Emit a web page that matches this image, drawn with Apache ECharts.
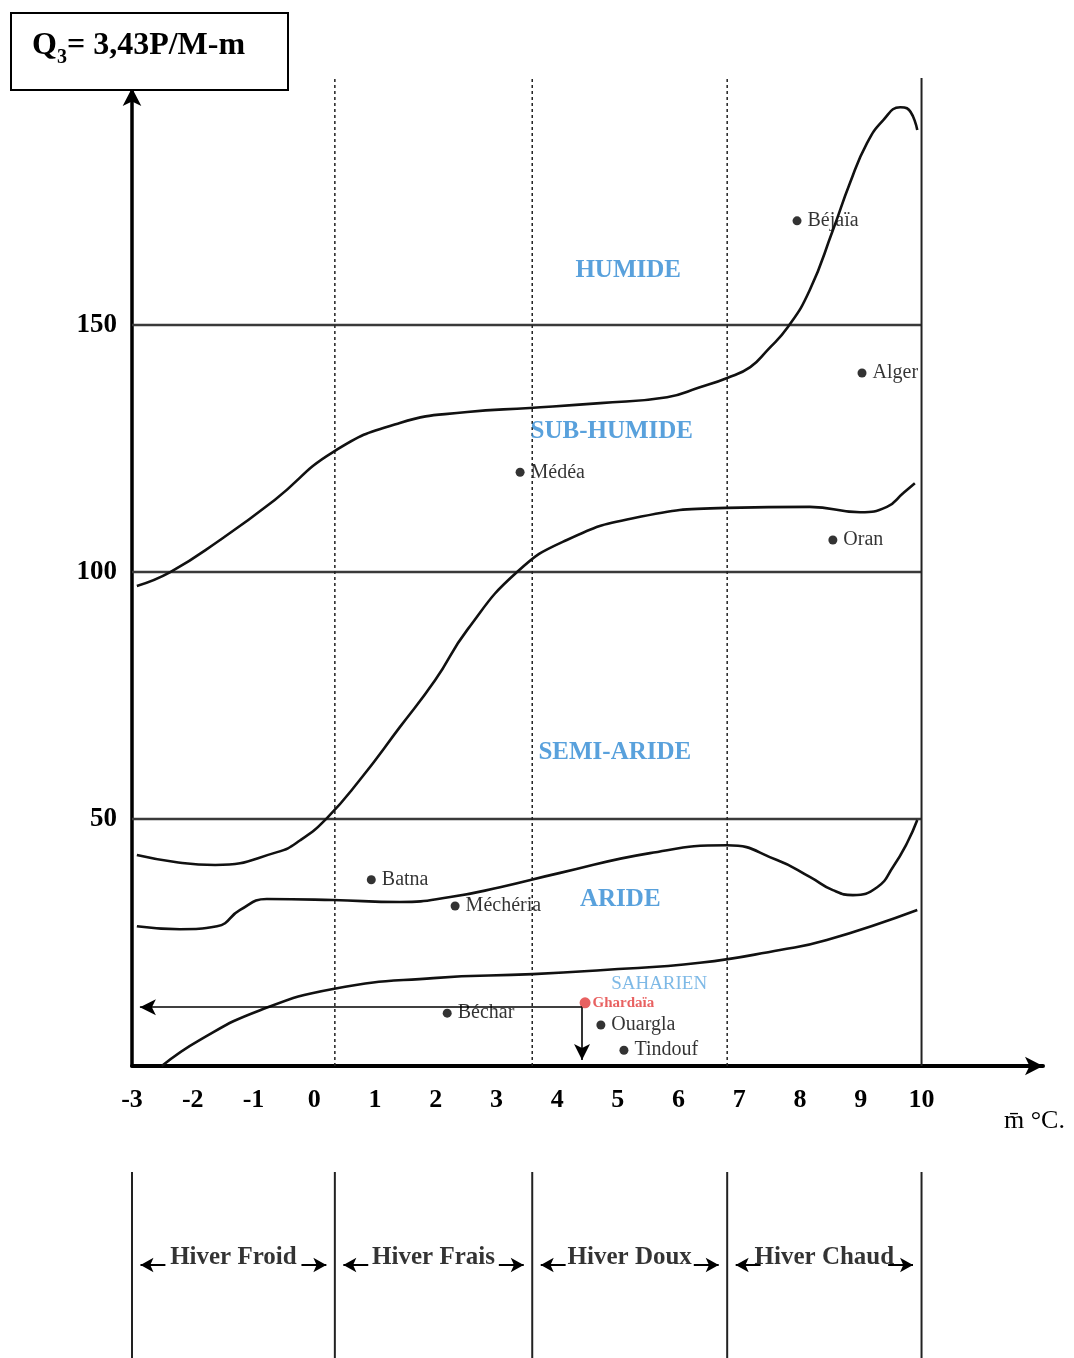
<!DOCTYPE html>
<html>
<head>
<meta charset="utf-8">
<script src="https://cdn.jsdelivr.net/npm/echarts@6/dist/echarts.min.js"></script>
<style>
  html, body { margin: 0; padding: 0; background: #fff; }
  #chart { width: 1074px; height: 1358px; }
</style>
</head>
<body>
<div id="chart"></div>
<script>
// axes
var xTicks = [-3, -2, -1, 0, 1, 2, 3, 4, 5, 6, 7, 8, 9, 10];
var yTicks = [50, 100, 150];

// limites des étages (m °C, Q3)
var limHumide = [[-2.92, 97.2], [-2.37, 100], [-1.55, 106.5], [-0.65, 114.6], [0.31, 124.3], [1.41, 130.2], [2.52, 132.4], [3.55, 133.2], [4.71, 134.2], [5.81, 135.4], [6.35, 137.4], [6.80, 139.3], [7.18, 141.5], [7.46, 144.9], [7.80, 149.6], [8.16, 157.1], [8.54, 169.2], [8.82, 178.7], [9.10, 186.8], [9.37, 191.5], [9.65, 194.1], [9.76, 193.9], [9.93, 189.5]];
var limSubHumide = [[-2.92, 42.7], [-2.29, 41.3], [-1.63, 40.7], [-0.61, 43.3], [-0.23, 45.7], [0.21, 50.2], [0.75, 57.9], [1.41, 68.6], [1.99, 78.1], [2.52, 88.3], [3.34, 100], [4.16, 106.5], [5.25, 110.9], [6.80, 113.0], [8.16, 113.2], [8.99, 112.1], [9.43, 113.2], [9.70, 116.0], [9.89, 118.0]];
var limSemiAride = [[-2.92, 28.3], [-2.21, 27.7], [-1.60, 28.3], [-1.22, 31.6], [-0.78, 33.8], [0.31, 33.6], [1.41, 33.2], [2.24, 34.2], [3.06, 36.2], [4.05, 39.1], [5.53, 43.1], [6.80, 44.7], [7.62, 41.7], [8.16, 38.3], [8.54, 35.6], [8.87, 34.6], [9.27, 36.2], [9.53, 40.3], [9.76, 45.1], [9.93, 49.8]];
var limAride = [[-2.51, 0], [-1.88, 5.3], [-0.89, 11.3], [0.31, 15.6], [1.96, 17.8], [3.60, 18.6], [4.71, 19.4], [6.35, 20.9], [7.67, 23.5], [8.44, 25.5], [9.93, 31.6]];

// stations
var stationNames = ['Béjaïa', 'Alger', 'Médéa', 'Oran', 'Batna', 'Méchéria', 'Béchar', 'Ouargla', 'Tindouf'];
var stationM = [7.95, 9.02, 3.39, 8.54, 0.94, 2.32, 2.19, 4.72, 5.10];
var stationQ = [171.1, 140.3, 120.2, 106.5, 37.7, 32.4, 10.7, 8.3, 3.2];
var ghardaia = [4.46, 12.8];
var ghardaiaRead = [4.41, 11.9];

// étages
var zoneNames = ['HUMIDE', 'SUB-HUMIDE', 'SEMI-ARIDE', 'ARIDE', 'SAHARIEN'];
var zoneAt = [[5.17, 161.1], [4.90, 128.5], [4.95, 63.4], [5.04, 33.6], [5.68, 16.6]];

// variantes hivernales
var winterNames = ['Hiver Froid', 'Hiver Frais', 'Hiver Doux', 'Hiver Chaud'];
var winterBounds = [-3, 0.34, 3.59, 6.80, 10];

var FONT = 'Liberation Serif';
var myChart = echarts.init(document.getElementById('chart'));

var series = [];

yTicks.forEach(function (q) {
  series.push({
    type: 'line', data: [[-3, q], [10, q]], symbol: 'none', silent: true,
    lineStyle: {color: '#3a3a3a', width: 2.5}
  });
});

winterBounds.slice(1).forEach(function (m, i, arr) {
  var last = i === arr.length - 1;
  series.push({
    type: 'line', data: [[m, 0], [m, 200]], symbol: 'none', silent: true, clip: false,
    lineStyle: {color: '#222', width: last ? 2 : 1.5, type: last ? 'solid' : [3, 3]}
  });
});

[limHumide, limSubHumide, limSemiAride, limAride].forEach(function (d) {
  series.push({
    type: 'line', data: d, symbol: 'none', smooth: 0.5,
    lineStyle: {color: '#111', width: 2.6}
  });
});

var zoneSeries = {
  type: 'scatter', symbolSize: 0, z: 4,
  data: zoneNames.map(function (n, i) { return {name: n, value: zoneAt[i]}; }),
  label: {
    show: true, position: 'inside', formatter: '{b}',
    fontFamily: FONT, fontWeight: 'bold', fontSize: 25, color: '#2f89d3',
    textBorderWidth: 0
  }
};
zoneSeries.data[4].label = {fontSize: 19, fontWeight: 'normal', color: '#5ea8e0'};
series.push(zoneSeries);

series.push({
  type: 'scatter', symbolSize: 9, itemStyle: {color: '#000'},
  data: stationNames.map(function (n, i) { return {name: n, value: [stationM[i], stationQ[i]]}; }),
  label: {
    show: true, position: 'right', distance: 6, formatter: '{b}',
    fontFamily: FONT, fontSize: 20, color: '#000', textBorderWidth: 0
  }
});

series.push({
  type: 'scatter', symbolSize: 11, itemStyle: {color: '#e23a3a'},
  data: [{name: 'Ghardaïa', value: ghardaia}],
  label: {
    show: true, position: 'right', distance: 2, formatter: '{b}',
    fontFamily: FONT, fontSize: 15, fontWeight: 'bold', color: '#e23a3a', textBorderWidth: 0
  },
  markLine: {
    silent: true, animation: false,
    symbol: ['none', 'arrow'], symbolSize: [12, 16],
    lineStyle: {color: '#000', width: 1.6, type: 'solid'},
    label: {show: false},
    data: [
      [{coord: ghardaiaRead}, {coord: [-2.87, ghardaiaRead[1]]}],
      [{coord: ghardaiaRead}, {coord: [ghardaiaRead[0], 1.2]}]
    ]
  }
});

// bande des hivers
winterBounds.forEach(function (m) {
  series.push({
    type: 'line', xAxisIndex: 1, yAxisIndex: 1, data: [[m, 0], [m, 1]],
    symbol: 'none', silent: true, lineStyle: {color: '#222', width: 2}
  });
});
var winterArrows = [];
winterNames.forEach(function (n, i) {
  winterArrows.push([{coord: [winterBounds[i] + 0.55, 0.5]}, {coord: [winterBounds[i] + 0.14, 0.5]}]);
  winterArrows.push([{coord: [winterBounds[i + 1] - 0.55, 0.5]}, {coord: [winterBounds[i + 1] - 0.14, 0.5]}]);
});
series.push({
  type: 'line', xAxisIndex: 1, yAxisIndex: 1, data: [], silent: true,
  markLine: {
    silent: true, animation: false,
    symbol: ['none', 'arrow'], symbolSize: [11, 13],
    lineStyle: {color: '#000', width: 2, type: 'solid'},
    label: {show: false},
    data: winterArrows
  }
});
series.push({
  type: 'scatter', xAxisIndex: 1, yAxisIndex: 1, symbolSize: 0, z: 5,
  data: winterNames.map(function (n, i) {
    return {name: n, value: [(winterBounds[i] + winterBounds[i + 1]) / 2, 0.5]};
  }),
  label: {
    show: true, position: 'inside', formatter: '{b}', offset: [0, -7],
    fontFamily: FONT, fontWeight: 'bold', fontSize: 25, color: '#000', textBorderWidth: 0
  }
});

var option = {
  animation: false,
  backgroundColor: '#fff',
  grid: [
    {left: 132, right: 31, top: 88, bottom: 292, outerBoundsMode: 'none'},
    {left: 132, right: 31, top: 1172, bottom: 0, outerBoundsMode: 'none'}
  ],
  xAxis: [{
    type: 'value', min: -3, max: 12, interval: 1,
    axisLine: {show: true, onZero: false, symbol: ['none', 'arrow'], symbolSize: [14, 18], lineStyle: {color: '#000', width: 4}},
    axisTick: {show: false},
    splitLine: {show: false},
    axisLabel: {
      margin: 21, fontFamily: FONT, fontWeight: 'bold', fontSize: 26, color: '#000',
      formatter: function (v) { return xTicks.indexOf(v) >= 0 ? String(v) : ''; }
    }
  }, {
    type: 'value', gridIndex: 1, min: -3, max: 12, show: false
  }],
  yAxis: [{
    type: 'value', min: 0, max: 198, interval: 50,
    axisLine: {show: true, onZero: false, symbol: ['none', 'arrow'], symbolSize: [14, 18], lineStyle: {color: '#000', width: 3.5}},
    axisTick: {show: false},
    splitLine: {show: false},
    axisLabel: {
      margin: 15, fontFamily: FONT, fontWeight: 'bold', fontSize: 27, color: '#000',
      formatter: function (v) { return yTicks.indexOf(v) >= 0 ? String(v) : ''; }
    }
  }, {
    type: 'value', gridIndex: 1, min: 0, max: 1, show: false
  }],
  graphic: [
    {
      type: 'rect', left: 10, top: 12, z: 10,
      shape: {width: 277, height: 77},
      style: {fill: '#fff', stroke: '#000', lineWidth: 2}
    },
    {
      type: 'text', left: 32, top: 30, z: 11,
      style: {
        text: '{q|Q}{s|3}{q|= 3,43P/M-m}',
        rich: {
          q: {fontFamily: FONT, fontWeight: 'bold', fontSize: 32, fill: '#000', verticalAlign: 'bottom'},
          s: {fontFamily: FONT, fontWeight: 'bold', fontSize: 20, fill: '#000', verticalAlign: 'bottom', padding: [0, 0, -6, 0]}
        }
      }
    },
    {
      type: 'text', left: 1004, top: 1108, z: 11,
      style: {text: 'm\u0304 °C.', fontFamily: FONT, fontSize: 26, fill: '#000'}
    }
  ],
  series: series
};

myChart.setOption(option);
</script>
</body>
</html>
